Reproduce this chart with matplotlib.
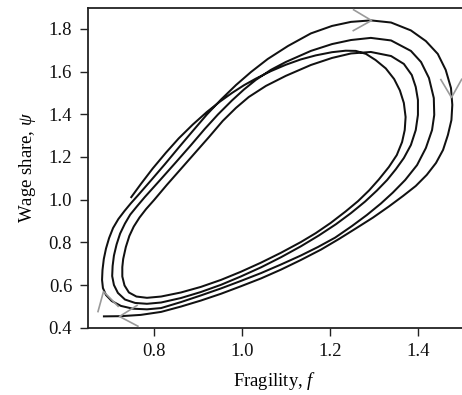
import numpy as np
import matplotlib
matplotlib.use("Agg")
import matplotlib.pyplot as plt
from matplotlib.markers import MarkerStyle
from matplotlib.path import Path
from matplotlib.transforms import Affine2D

# Trajectory of fragility f and wage share psi, split into four passes
# round the cycle (clockwise, spiralling outward).
f_pass1 = [0.748, 0.771, 0.798, 0.828, 0.857, 0.889, 0.921, 0.951, 0.978, 1.005,
           1.032, 1.066, 1.100, 1.134, 1.168, 1.205, 1.236, 1.259, 1.282, 1.304,
           1.327, 1.346, 1.359, 1.368, 1.372, 1.370, 1.364, 1.352, 1.334, 1.311,
           1.289, 1.264, 1.236, 1.202, 1.168, 1.134, 1.089, 1.044, 0.998, 0.953,
           0.907, 0.862, 0.817]
psi_pass1 = [1.008, 1.073, 1.146, 1.220, 1.287, 1.352, 1.411, 1.460, 1.500, 1.536,
             1.567, 1.602, 1.632, 1.657, 1.676, 1.691, 1.698, 1.697, 1.683, 1.654,
             1.615, 1.565, 1.512, 1.453, 1.387, 1.326, 1.270, 1.209, 1.153, 1.094,
             1.043, 0.993, 0.945, 0.891, 0.843, 0.801, 0.751, 0.705, 0.662, 0.624,
             0.591, 0.565, 0.546]

f_pass2 = [0.785, 0.761, 0.744, 0.734, 0.729, 0.729, 0.731, 0.737, 0.745, 0.755,
           0.768, 0.783, 0.801, 0.830, 0.862, 0.894, 0.926, 0.957, 0.987, 1.016,
           1.055, 1.100, 1.157, 1.205, 1.248, 1.293, 1.339, 1.368, 1.386, 1.395,
           1.400, 1.400, 1.395, 1.384, 1.368, 1.350, 1.330, 1.307, 1.280, 1.248,
           1.214, 1.175, 1.134, 1.089, 1.044, 0.998, 0.953, 0.907, 0.862, 0.817]
psi_pass2 = [0.540, 0.546, 0.565, 0.598, 0.640, 0.684, 0.722, 0.778, 0.830, 0.874,
             0.916, 0.956, 0.998, 1.069, 1.144, 1.219, 1.294, 1.369, 1.430, 1.481,
             1.533, 1.580, 1.631, 1.664, 1.685, 1.692, 1.673, 1.636, 1.584, 1.528,
             1.467, 1.397, 1.326, 1.256, 1.195, 1.143, 1.092, 1.043, 0.991, 0.937,
             0.885, 0.832, 0.781, 0.730, 0.683, 0.640, 0.601, 0.567, 0.539, 0.518]

f_pass3 = [0.785, 0.758, 0.735, 0.719, 0.710, 0.706, 0.707, 0.710, 0.716, 0.724,
           0.735, 0.747, 0.762, 0.780, 0.817, 0.851, 0.885, 0.916, 0.946, 0.978,
           1.005, 1.032, 1.066, 1.100, 1.157, 1.205, 1.248, 1.293, 1.339, 1.384,
           1.407, 1.425, 1.436, 1.437, 1.432, 1.418, 1.398, 1.371, 1.343, 1.316,
           1.284, 1.250, 1.212, 1.173, 1.134, 1.089, 1.044, 0.998, 0.953, 0.907,
           0.862, 0.817]
psi_pass3 = [0.512, 0.516, 0.532, 0.563, 0.600, 0.642, 0.689, 0.738, 0.790, 0.841,
             0.888, 0.930, 0.968, 1.012, 1.097, 1.176, 1.256, 1.331, 1.399, 1.465,
             1.516, 1.561, 1.608, 1.645, 1.697, 1.729, 1.748, 1.758, 1.746, 1.697,
             1.645, 1.570, 1.476, 1.397, 1.326, 1.242, 1.162, 1.092, 1.033, 0.982,
             0.928, 0.876, 0.822, 0.778, 0.738, 0.696, 0.656, 0.619, 0.584, 0.551,
             0.520, 0.492]

f_pass4 = [0.785, 0.753, 0.726, 0.705, 0.692, 0.685, 0.683, 0.684, 0.687, 0.692,
           0.699, 0.708, 0.720, 0.734, 0.748, 0.764, 0.794, 0.826, 0.857, 0.889,
           0.921, 0.953, 0.987, 1.021, 1.059, 1.105, 1.157, 1.205, 1.248, 1.293,
           1.339, 1.384, 1.418, 1.445, 1.463, 1.475, 1.478, 1.476, 1.468, 1.457,
           1.441, 1.420, 1.395, 1.366, 1.334, 1.298, 1.259, 1.221, 1.180, 1.134,
           1.089, 1.044, 0.998, 0.953, 0.907, 0.862, 0.817, 0.771, 0.726, 0.685]
psi_pass4 = [0.486, 0.489, 0.502, 0.525, 0.553, 0.586, 0.624, 0.670, 0.722, 0.771,
             0.820, 0.867, 0.909, 0.947, 0.982, 1.019, 1.090, 1.167, 1.244, 1.322,
             1.399, 1.469, 1.537, 1.598, 1.659, 1.720, 1.779, 1.814, 1.833, 1.840,
             1.830, 1.793, 1.743, 1.683, 1.608, 1.523, 1.444, 1.373, 1.303, 1.233,
             1.172, 1.116, 1.064, 1.017, 0.968, 0.916, 0.865, 0.816, 0.766, 0.717,
             0.672, 0.631, 0.594, 0.559, 0.527, 0.499, 0.474, 0.460, 0.454, 0.453]

# Direction-of-motion arrowheads placed on the outer pass
arrow_f = [1.293, 1.475, 0.721, 0.685]
arrow_psi = [1.840, 1.481, 0.457, 0.572]

x_ticks = [0.8, 1.0, 1.2, 1.4]
y_ticks = [0.4, 0.6, 0.8, 1.0, 1.2, 1.4, 1.6, 1.8]

plt.rcParams.update({
    "font.family": ["Liberation Serif", "DejaVu Serif"],
    "mathtext.fontset": "custom",
    "mathtext.rm": "Liberation Serif",
    "mathtext.it": "Liberation Serif:italic",
    "font.size": 13.5,
})

fig = plt.figure(figsize=(4.62, 3.95), dpi=100)
ax = fig.add_axes([0.1894, 0.1704, 0.8106, 0.8104])

f_all = np.concatenate([f_pass1, f_pass2, f_pass3, f_pass4])
psi_all = np.concatenate([psi_pass1, psi_pass2, psi_pass3, psi_pass4])

ax.plot(f_all, psi_all, color="#111111", lw=1.45,
        solid_joinstyle="round", solid_capstyle="butt", zorder=2)

ax.set_xlim(0.65, 1.5)
ax.set_ylim(0.4, 1.9)
ax.set_xticks(x_ticks)
ax.set_xticklabels([f"{v:.1f}" for v in x_ticks])
ax.set_yticks(y_ticks)
ax.set_yticklabels([f"{v:.1f}" for v in y_ticks])

for side in ("left", "bottom", "top"):
    ax.spines[side].set_linewidth(1.3)
    ax.spines[side].set_color("#222222")
ax.spines["right"].set_visible(False)
ax.tick_params(direction="out", length=6, width=1.0, pad=5, colors="#222222",
               labelsize=13.5, labelcolor="#111111")

ax.set_xlabel("Fragility, $f$", labelpad=7)
ax.set_ylabel(r"Wage share, $\psi$", labelpad=8)

# Chevron arrowheads oriented along the local direction of the trajectory
pts = ax.transData.transform(np.column_stack([f_all, psi_all]))
chevron = Path([(-0.866, 0.5), (0.0, 0.0), (-0.866, -0.5)],
               [Path.MOVETO, Path.LINETO, Path.LINETO])
for af, ap in zip(arrow_f, arrow_psi):
    p = ax.transData.transform((af, ap))
    i = int(np.argmin(((pts - p) ** 2).sum(axis=1)))
    d = pts[min(i + 1, len(pts) - 1)] - pts[max(i - 1, 0)]
    ang = np.degrees(np.arctan2(d[1], d[0]))
    m = MarkerStyle(chevron, fillstyle="none",
                    transform=Affine2D().rotate_deg(ang))
    ax.plot([af], [ap], marker=m, ms=27, mec="#9a9a9a", mew=1.2,
            mfc="none", linestyle="none", clip_on=False, zorder=3)

fig.savefig("out.png", dpi=100)
